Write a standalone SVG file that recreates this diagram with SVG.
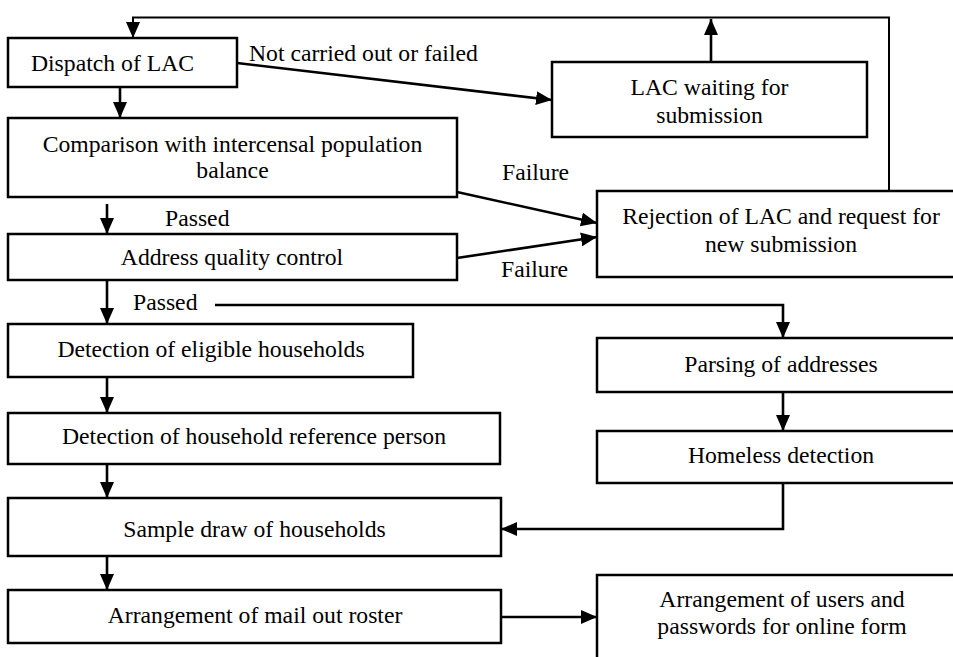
<svg xmlns="http://www.w3.org/2000/svg" width="953" height="657" viewBox="0 0 953 657">
<style>
.box{fill:#fff;stroke:#000;stroke-width:2.5}
.t{font-size:23.7px;fill:#000}
.c{text-anchor:middle}
.ln{fill:none;stroke:#000;stroke-width:2.6}
.fb{fill:none;stroke:#000;stroke-width:2}
</style>
<defs>
<marker id="ah" viewBox="0 0 16 14" refX="16" refY="7" markerWidth="16" markerHeight="14" markerUnits="userSpaceOnUse" orient="auto">
<path d="M0,0 L16,7 L0,14 z" fill="#000"/>
</marker>
</defs>
<rect width="953" height="657" fill="#fff"/>
<g font-family="'Liberation Serif', 'Times New Roman', Times, serif">
<g id="connectors">
<path class="fb" d="M889,191 V17.5 H133 V38" marker-end="url(#ah)"/>
<path class="ln" d="M711,62 V19" marker-end="url(#ah)"/>
<path class="ln" d="M237,63 L552,100" marker-end="url(#ah)"/>
<path class="ln" d="M120,87 V118" marker-end="url(#ah)"/>
<path class="ln" d="M107,204 V234" marker-end="url(#ah)"/>
<path class="ln" d="M457,192 L597,223" marker-end="url(#ah)"/>
<path class="ln" d="M457,258 L597,237" marker-end="url(#ah)"/>
<path class="ln" d="M107,280 V324" marker-end="url(#ah)"/>
<path class="ln" d="M215,305 H783 V338" marker-end="url(#ah)"/>
<path class="ln" d="M107,377 V413" marker-end="url(#ah)"/>
<path class="ln" d="M107,464 V498" marker-end="url(#ah)"/>
<path class="ln" d="M783,392 V431" marker-end="url(#ah)"/>
<path class="ln" d="M783,483 V529 H501" marker-end="url(#ah)"/>
<path class="ln" d="M107,556 V590" marker-end="url(#ah)"/>
<path class="ln" d="M501,617 H597" marker-end="url(#ah)"/>
<text class="t" x="249" y="61">Not carried out or failed</text>
<text class="t" x="502" y="180">Failure</text>
<text class="t" x="165" y="226">Passed</text>
<text class="t" x="501" y="277">Failure</text>
<text class="t" x="133" y="310">Passed</text>
</g>
<g id="dispatch">
<rect class="box" x="8" y="38" width="229" height="49"/>
<text class="t c" x="112.5" y="71">Dispatch of LAC</text>
</g>
<g id="waiting">
<rect class="box" x="552" y="62" width="315" height="75"/>
<text class="t c" x="709.5" y="95">LAC waiting for</text>
<text class="t c" x="709.5" y="123">submission</text>
</g>
<g id="comparison">
<rect class="box" x="8" y="118" width="449" height="79"/>
<text class="t c" x="232.5" y="152">Comparison with intercensal population</text>
<text class="t c" x="232.5" y="178">balance</text>
</g>
<g id="rejection">
<rect class="box" x="597" y="191" width="370" height="86"/>
<text class="t c" x="781" y="224">Rejection of LAC and request for</text>
<text class="t c" x="781" y="252">new submission</text>
</g>
<g id="address">
<rect class="box" x="8" y="234" width="449" height="46"/>
<text class="t c" x="232" y="265">Address quality control</text>
</g>
<g id="eligible">
<rect class="box" x="8" y="324" width="405" height="53"/>
<text class="t c" x="211" y="357">Detection of eligible households</text>
</g>
<g id="parsing">
<rect class="box" x="597" y="338" width="370" height="54"/>
<text class="t c" x="781" y="372">Parsing of addresses</text>
</g>
<g id="refperson">
<rect class="box" x="8" y="413" width="492" height="51"/>
<text class="t c" x="254" y="444">Detection of household reference person</text>
</g>
<g id="homeless">
<rect class="box" x="597" y="431" width="370" height="52"/>
<text class="t c" x="781" y="463">Homeless detection</text>
</g>
<g id="sample">
<rect class="box" x="8" y="498" width="493" height="58"/>
<text class="t c" x="254.5" y="537">Sample draw of households</text>
</g>
<g id="mailout">
<rect class="box" x="8" y="590" width="493" height="53"/>
<text class="t c" x="255" y="623">Arrangement of mail out roster</text>
</g>
<g id="users">
<rect class="box" x="597" y="575" width="370" height="100"/>
<text class="t c" x="782" y="607">Arrangement of users and</text>
<text class="t c" x="782" y="634">passwords for online form</text>
</g>
</g>
</svg>
